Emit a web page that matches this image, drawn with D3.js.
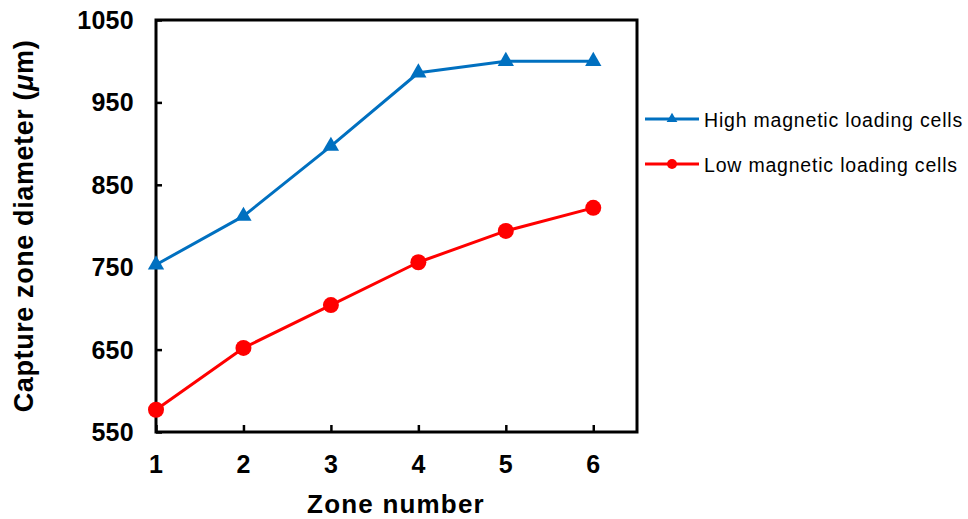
<!DOCTYPE html>
<html>
<head>
<meta charset="utf-8">
<script src="https://cdn.jsdelivr.net/npm/d3@7/dist/d3.min.js"></script>
<style>
  html, body { margin: 0; padding: 0; background: #fff; }
  svg { display: block; font-family: "Liberation Sans", Arial, sans-serif; }
</style>
</head>
<body>
<svg id="chart" width="968" height="519"></svg>
<script>
// Zone numbers and capture zone diameters (µm)
const zones = [1, 2, 3, 4, 5, 6];
const highLoading = [753, 812, 897, 986, 1000, 1000];
const lowLoading = [577, 652, 704, 756, 794, 822];
const yTicks = [550, 650, 750, 850, 950, 1050];
const xTicks = [1, 2, 3, 4, 5, 6];
const seriesNames = ["High magnetic loading cells", "Low magnetic loading cells"];

const svg = d3.select("#chart");
const plot = { left: 156, right: 637, top: 20, bottom: 432 };

const x = d3.scaleLinear().domain([1, 6.5]).range([plot.left, plot.right]);
const y = d3.scaleLinear().domain([550, 1050]).range([plot.bottom, plot.top]);

const blue = "#0070C0", red = "#FF0000";

// Y axis: ticks point inward, labels on the left
const yAxis = svg.append("g")
  .attr("transform", `translate(${plot.left},0)`)
  .call(d3.axisRight(y).tickValues(yTicks).tickSize(6).tickFormat(""));
yAxis.select(".domain").remove();
yAxis.selectAll("line").attr("stroke", "#000").attr("stroke-width", 2.5);

svg.append("g").selectAll("text").data(yTicks).join("text")
  .attr("x", 134).attr("y", d => y(d)).attr("dy", "0.36em")
  .attr("text-anchor", "end")
  .attr("font-size", 25).attr("font-weight", "bold").attr("letter-spacing", 0.3)
  .text(d => d);

// X axis: ticks point upward into the plot
const xAxis = svg.append("g")
  .attr("transform", `translate(0,${plot.bottom})`)
  .call(d3.axisTop(x).tickValues(xTicks).tickSize(7).tickFormat(""));
xAxis.select(".domain").remove();
xAxis.selectAll("line").attr("stroke", "#000").attr("stroke-width", 2.5);

svg.append("g").selectAll("text").data(xTicks).join("text")
  .attr("x", d => x(d)).attr("y", 473)
  .attr("text-anchor", "middle")
  .attr("font-size", 25).attr("font-weight", "bold")
  .text(d => d);

// Plot frame
svg.append("rect")
  .attr("x", plot.left).attr("y", plot.top)
  .attr("width", plot.right - plot.left).attr("height", plot.bottom - plot.top)
  .attr("fill", "none").attr("stroke", "#000").attr("stroke-width", 3);

// Axis titles
svg.append("text")
  .attr("x", 396).attr("y", 513)
  .attr("text-anchor", "middle")
  .attr("font-size", 26).attr("font-weight", "bold").attr("letter-spacing", 1.2)
  .text("Zone number");

const yTitle = svg.append("text")
  .attr("transform", "translate(33,226) rotate(-90)")
  .attr("text-anchor", "middle")
  .attr("font-size", 27).attr("font-weight", "bold").attr("letter-spacing", 0.6);
yTitle.append("tspan").text("Capture zone diameter (");
yTitle.append("tspan").attr("font-style", "italic").text("\u03BC");
yTitle.append("tspan").text("m)");

// Series lines and markers
const line = d3.line().x((d, i) => x(zones[i])).y(d => y(d));

svg.append("path").datum(highLoading)
  .attr("d", line).attr("fill", "none")
  .attr("stroke", blue).attr("stroke-width", 3).attr("stroke-linejoin", "round");
svg.append("path").datum(lowLoading)
  .attr("d", line).attr("fill", "none")
  .attr("stroke", red).attr("stroke-width", 3).attr("stroke-linejoin", "round");

const tri = d3.symbol().type(d3.symbolTriangle).size(115);
svg.append("g").selectAll("path").data(highLoading).join("path")
  .attr("d", tri)
  .attr("transform", (d, i) => `translate(${x(zones[i])},${y(d)})`)
  .attr("fill", blue);

svg.append("g").selectAll("circle").data(lowLoading).join("circle")
  .attr("cx", (d, i) => x(zones[i])).attr("cy", d => y(d))
  .attr("r", 8).attr("fill", red);

// Legend
const legend = svg.append("g");
const legendRows = [
  { name: seriesNames[0], color: blue, marker: "triangle", y: 119 },
  { name: seriesNames[1], color: red, marker: "circle", y: 164 }
];
legendRows.forEach(r => {
  legend.append("line")
    .attr("x1", 645).attr("x2", 699).attr("y1", r.y).attr("y2", r.y)
    .attr("stroke", r.color).attr("stroke-width", 3);
  if (r.marker === "triangle") {
    legend.append("path")
      .attr("d", d3.symbol().type(d3.symbolTriangle).size(50))
      .attr("transform", `translate(672,${r.y})`).attr("fill", r.color);
  } else {
    legend.append("circle").attr("cx", 672).attr("cy", r.y).attr("r", 5).attr("fill", r.color);
  }
  legend.append("text")
    .attr("x", 704).attr("y", r.y + 7.5)
    .attr("font-size", 19.5).attr("letter-spacing", 0.8)
    .text(r.name);
});
</script>
</body>
</html>
